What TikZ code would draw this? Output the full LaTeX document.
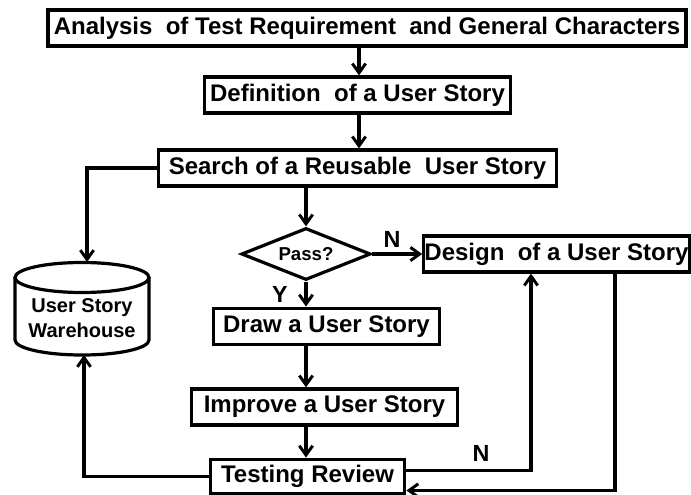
\documentclass[tikz,border=0pt]{standalone}
\usepackage{fontspec}
\setmainfont{Liberation Sans}
\usetikzlibrary{arrows.meta,shapes.geometric}
\begin{document}
\begin{tikzpicture}[x=0.75pt,y=-0.75pt,
  box/.style={draw,line width=2.4pt,inner sep=0pt,minimum height=27pt,
    font=\bfseries\fontsize{18}{21}\selectfont},
  arr/.style={line width=2.4pt,-{Straight Barb[length=7pt,width=10pt,line width=2.2pt]}},
  lbl/.style={font=\bfseries\fontsize{17.5}{20}\selectfont,inner sep=0pt}]
\useasboundingbox (0,0) rectangle (691,495);

% process boxes
\node[box,minimum width=478.5pt] (a1) at (367,28) {Analysis\ \ of Test Requirement\ \ and General Characters};
\node[box,minimum width=230pt] (a2) at (357.5,95) {Definition\ \ of a User Story};
\node[box,minimum width=298pt] (a3) at (357.5,168) {Search of a Reusable\ \ User Story};
\node[draw,line width=2.4pt,shape=diamond,aspect=2.5,inner sep=0pt,
  minimum width=97pt,minimum height=39pt,font=\bfseries\fontsize{14}{16}\selectfont]
  (dia) at (306,254) {Pass?};
\node[box,minimum width=199pt] (d) at (556.5,254) {Design\ \ of a User Story};
\node[box,minimum width=170pt,minimum height=27.5pt] (b1) at (326.5,326.5) {Draw a User Story};
\node[box,minimum width=200pt] (b2) at (324.5,407) {Improve a User Story};
\node[box,minimum width=146pt,minimum height=26pt] (b3) at (307.5,476.5) {Testing Review};

% warehouse cylinder
\draw[line width=2.4pt] (82,277.5) ellipse [x radius=50.25pt,y radius=11.25pt];
\draw[line width=2.4pt] (15,277.5) -- (15,340)
  arc[start angle=180,end angle=360,x radius=50.25pt,y radius=11.25pt] -- (149,277.5);
\node[align=center,inner sep=0pt,font=\bfseries\fontsize{15}{19}\selectfont] (wh) at (82,318)
  {User Story\\Warehouse};
\coordinate (cyltop) at (87,262);
\coordinate (cylbot) at (84,355);

% connector columns
\coordinate (c1) at (359,0);
\coordinate (n1) at (531,0);
\coordinate (n2) at (615,0);

% connectors
\draw[arr] (a1.south -| c1) -- (a2.north -| c1);
\draw[arr] (a2.south -| c1) -- (a3.north -| c1);
\draw[arr] (a3.west) -| (cyltop);
\draw[arr] (a3.south -| dia.north) -- (dia.north);
\draw[arr] (dia.east) -- (d.west);
\draw[arr] (dia.south) -- (b1.north -| dia.south);
\draw[arr] (b1.south -| dia.south) -- (b2.north -| dia.south);
\draw[arr] (b2.south -| dia.south) -- (b3.north -| dia.south);
\draw[arr] (b3.west) -| (cylbot);
\draw[arr] ([yshift=4.5pt]b3.east) -| (d.south -| n1);
\draw[arr] (d.south -| n2) |- ([yshift=-10.5pt]b3.east);

% branch labels
\node[lbl] (ln1) at (392,239) {N};
\node[lbl] (ly) at (280,294) {Y};
\node[lbl] (ln2) at (481,453) {N};
\end{tikzpicture}
\end{document}
